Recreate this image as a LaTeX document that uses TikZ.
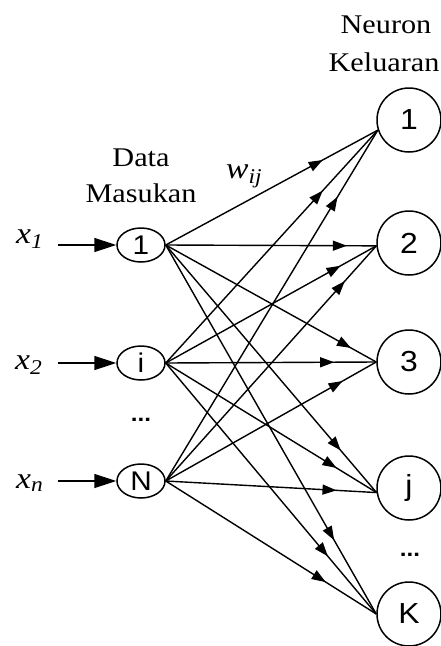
\documentclass[tikz,border=0pt]{standalone}
\usepackage{fontspec}
\newfontfamily\serif{Liberation Serif}[FakeStretch=1.12]
\newfontfamily\sansf{Liberation Sans}[FakeStretch=1.1]
\usetikzlibrary{shapes.geometric,arrows.meta,decorations.markings}
\tikzset{
 innode/.style={ellipse, draw, line width=1.5pt, minimum width=48pt, minimum height=34pt, inner sep=0pt, font=\sansf\fontsize{27}{27}\selectfont},
 outnode/.style={circle, draw, line width=1.5pt, minimum size=64pt, inner sep=0pt, font=\sansf\fontsize{29}{29}\selectfont},
 lab/.style={font=\serif\fontsize{27}{28}\selectfont, inner sep=0pt},
 xlab/.style={font=\serif\itshape\fontsize{30}{30}\selectfont, inner sep=0pt, anchor=base west},
 dots/.style={font=\sansf\bfseries\fontsize{22}{22}\selectfont, inner sep=0pt},
 edge/.style={line width=1.4pt, postaction={decorate}, decoration={markings, mark=at position #1 with {\arrow{Triangle[length=14pt,width=10pt]}}}},
 inarrow/.style={line width=1.5pt, -{Triangle[length=22pt,width=14pt]}},
}
\begin{document}
\begin{tikzpicture}[x=1pt,y=-1pt]
\useasboundingbox (0,0) rectangle (441,646);
% input nodes
\node[innode] (i1) at (141,245) {1};
\node[innode] (ii) at (141,363) {i};
\node[innode] (iN) at (141,481) {N};
\node[dots] (idots) at (141,420) {...};
% output nodes
\node[outnode] (o1) at (409,120) {1};
\node[outnode] (o2) at (409,243) {2};
\node[outnode] (o3) at (409,362) {3};
\node[outnode] (oj) at (409,488) {j};
\node[outnode] (oK) at (409,614) {K};
\node[dots] (odots) at (410,555) {...};
% labels
\node[lab] (data) at (141,158) {Data};
\node[lab] (masukan) at (141,193) {Masukan};
\node[lab] (neuron) at (386,25) {Neuron};
\node[lab] (keluaran) at (384,62) {Keluaran};
\node[xlab] (w) at (226,178) {w\textsubscript{ij}};
% input labels and arrows
\node[xlab] (x1) at (16,243) {x\textsubscript{1}};
\node[xlab] (x2) at (15,369) {x\textsubscript{2}};
\node[xlab] (xn) at (16,488) {x\textsubscript{n}};
\coordinate (s1) at (58,245);
\coordinate (s2) at (58,363);
\coordinate (sn) at (58,481);
\draw[inarrow] (s1) -- (i1.west);
\draw[inarrow] (s2) -- (ii.west);
\draw[inarrow] (sn) -- (iN.west);
% connections
\draw[edge=0.74] (i1.east) -- (o1.198);
\draw[edge=0.74] (ii.east) -- (o1.198);
\draw[edge=0.81] (iN.east) -- (o1.198);
\draw[edge=0.86] (i1.east) -- (o2.185);
\draw[edge=0.83] (ii.east) -- (o2.185);
\draw[edge=0.85] (iN.east) -- (o2.185);
\draw[edge=0.88] (i1.east) -- (o3.west);
\draw[edge=0.80] (ii.east) -- (o3.west);
\draw[edge=0.84] (iN.east) -- (o3.west);
\draw[edge=0.83] (i1.east) -- (oj.188);
\draw[edge=0.81] (ii.east) -- (oj.188);
\draw[edge=0.81] (iN.east) -- (oj.188);
\draw[edge=0.80] (i1.east) -- (oK.west);
\draw[edge=0.77] (ii.east) -- (oK.west);
\draw[edge=0.76] (iN.east) -- (oK.west);
\end{tikzpicture}
\end{document}
